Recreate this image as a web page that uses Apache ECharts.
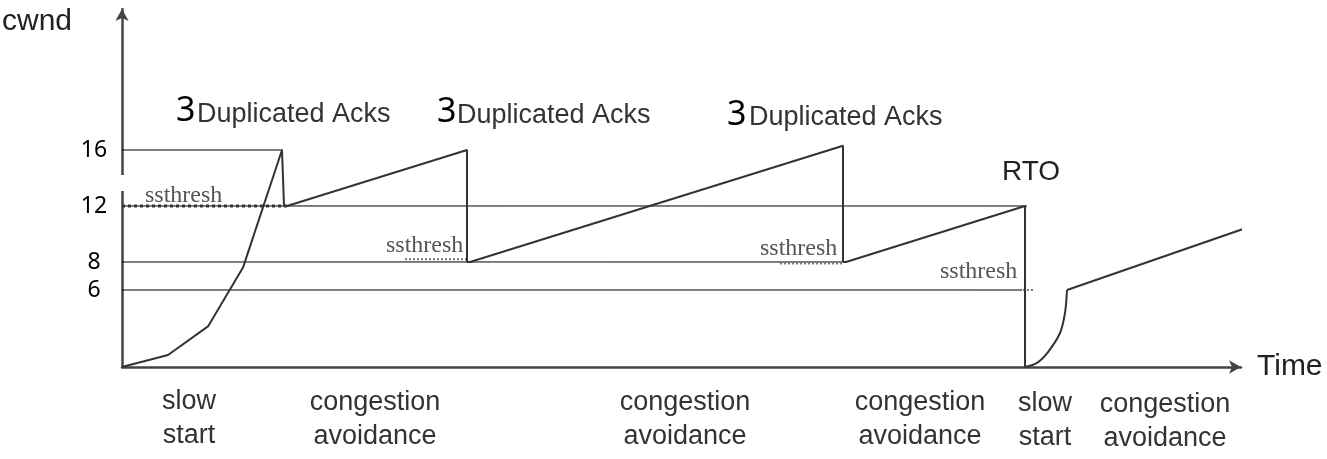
<!DOCTYPE html>
<html>
<head>
<meta charset="utf-8">
<script src="https://cdn.jsdelivr.net/npm/echarts@6/dist/echarts.min.js"></script>
<style>
  html, body { margin: 0; padding: 0; background: #fff; }
  #cwnd-chart { width: 1327px; height: 459px; }
</style>
</head>
<body>
<div id="cwnd-chart"></div>
<script>
// ========== 数据 ==========
var yTicks = [6, 8, 12, 16];

// cwnd 主曲线: slow start -> 3 次重复 ACK -> RTO
var cwndTime  = [0, 4.6, 8.6, 12.1, 16.0, 16.2, 16.5, 34.5, 34.5, 34.8, 72.1, 72.1, 72.4, 90.3, 90.3];
var cwndValue = [0.5, 1.36, 3.4, 7.6, 16, 12, 12, 16, 8, 8, 16.3, 8, 8, 12, 0.5];

// RTO 之后的 slow start 曲线
var rtoTime  = [90.3, 91.5, 92.6, 93.8, 94.3, 94.5];
var rtoValue = [0.5, 0.8, 1.57, 2.93, 4.36, 6];

// 之后的 congestion avoidance
var lastTime  = [94.5, 112.3];
var lastValue = [6, 10.4];

// 水平参考线
var refLevel = [16, 12, 8, 6];
var refEnd   = [16.1, 90.5, 72.0, 90.0];

// ssthresh 虚线
var dotLevel = [12, 8.2, 7.9, 6];
var dotStart = [0, 28.3, 65.8, 85.3];
var dotEnd   = [16.5, 34.4, 72.0, 91.3];

function pairs(xs, ys) {
    return xs.map(function (x, i) { return [x, ys[i]]; });
}

var series = [];
refLevel.forEach(function (v, i) {
    series.push({
        type: 'line',
        data: [[0, v], [refEnd[i], v]],
        symbol: 'none',
        lineStyle: { color: '#000', width: 1 },
        z: 1
    });
});
dotLevel.forEach(function (v, i) {
    series.push({
        type: 'line',
        data: [[dotStart[i], v], [dotEnd[i], v]],
        symbol: 'none',
        lineStyle: { color: i === 0 ? '#333' : '#777', width: i === 0 ? 3 : 2, type: 'dotted' },
        z: 2
    });
});
series.push({
    type: 'line',
    data: pairs(cwndTime, cwndValue),
    symbol: 'none',
    lineStyle: { color: '#333', width: 2 },
    z: 3
});
series.push({
    type: 'line',
    data: pairs(rtoTime, rtoValue),
    symbol: 'none',
    smooth: 0.3,
    lineStyle: { color: '#333', width: 2 },
    z: 3
});
series.push({
    type: 'line',
    data: pairs(lastTime, lastValue),
    symbol: 'none',
    clip: false,
    lineStyle: { color: '#333', width: 2 },
    z: 3
});

var sansFont = '"Liberation Sans", Arial, sans-serif';
var serifFont = '"Liberation Serif", "Times New Roman", serif';
var digitFont = '"Noto Sans", sans-serif';

function txt(x, y, text, size, font, color, align) {
    return {
        type: 'text',
        x: x,
        y: y,
        style: {
            text: text,
            fontSize: size,
            fontFamily: font,
            fill: color,
            align: align || 'left',
            verticalAlign: 'middle',
            lineHeight: 34
        }
    };
}

var graphics = [
    // y 轴上的白色缺口
    { type: 'rect', shape: { x: 119, y: 175, width: 7, height: 16 }, style: { fill: '#fff' }, z: 100 },
    txt(2, 22, 'cwnd', 30, sansFont, '#222'),
    txt(1257, 367, 'Time', 30, sansFont, '#222'),

    txt(176, 111, '3', 34, digitFont, '#000'),
    txt(197, 115, 'Duplicated Acks', 27, sansFont, '#333'),
    txt(437, 112, '3', 34, digitFont, '#000'),
    txt(457, 116, 'Duplicated Acks', 27, sansFont, '#333'),
    txt(727, 115, '3', 34, digitFont, '#000'),
    txt(749, 118, 'Duplicated Acks', 27, sansFont, '#333'),
    txt(1002, 172, 'RTO', 28, sansFont, '#222'),

    txt(145, 196, 'ssthresh', 24, serifFont, '#555'),
    txt(386, 246, 'ssthresh', 24, serifFont, '#555'),
    txt(760, 249, 'ssthresh', 24, serifFont, '#555'),
    txt(940, 272, 'ssthresh', 24, serifFont, '#555'),

    txt(189, 419, 'slow\nstart', 27, sansFont, '#333', 'center'),
    txt(375, 420, 'congestion\navoidance', 27, sansFont, '#333', 'center'),
    txt(685, 420, 'congestion\navoidance', 27, sansFont, '#333', 'center'),
    txt(920, 420, 'congestion\navoidance', 27, sansFont, '#333', 'center'),
    txt(1045, 421, 'slow\nstart', 27, sansFont, '#333', 'center'),
    txt(1165, 422, 'congestion\navoidance', 27, sansFont, '#333', 'center')
];

var chart = echarts.init(document.getElementById('cwnd-chart'));
var option = {
    backgroundColor: '#fff',
    animation: false,
    grid: {
        left: 122,
        right: 86,
        top: 9,
        bottom: 92
    },
    xAxis: {
        type: 'value',
        min: 0,
        max: 111.9,
        axisLine: {
            show: true,
            symbol: ['none', 'arrow'],
            symbolSize: [10, 12],
            lineStyle: { color: '#444', width: 2.5 }
        },
        axisTick: { show: false },
        axisLabel: { show: false },
        splitLine: { show: false }
    },
    yAxis: {
        type: 'value',
        min: 0.5,
        max: 26.07,
        axisLine: {
            show: true,
            symbol: ['none', 'arrow'],
            symbolSize: [10, 12],
            lineStyle: { color: '#444', width: 2.5 }
        },
        axisTick: { show: false },
        axisLabel: {
            show: true,
            customValues: yTicks,
            color: '#000',
            fontSize: 23,
            fontFamily: digitFont,
            align: 'center',
            margin: 28
        },
        splitLine: { show: false }
    },
    series: series,
    graphic: graphics
};
chart.setOption(option);
</script>
</body>
</html>
